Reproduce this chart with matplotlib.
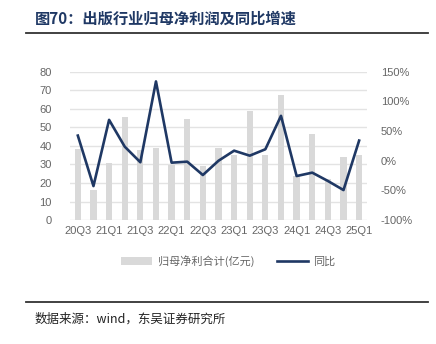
import numpy as np
import matplotlib.pyplot as plt
from matplotlib.lines import Line2D
from matplotlib.patches import Patch
from matplotlib.ticker import FuncFormatter

plt.rcParams['font.family'] = ['Liberation Sans', 'Noto Sans CJK SC', 'DejaVu Sans']

# Dane
quarters = ['20Q3', '20Q4', '21Q1', '21Q2', '21Q3', '21Q4', '22Q1', '22Q2', '22Q3', '22Q4',
            '23Q1', '23Q2', '23Q3', '23Q4', '24Q1', '24Q2', '24Q3', '24Q4', '25Q1']
net_profit = [38.5, 16.5, 30.6, 55.5, 37.8, 38.7, 29.7, 54.5, 29.1, 38.7,
              35.0, 58.8, 35.0, 67.4, 24.0, 46.5, 22.1, 34.2, 35.0]
yoy_pct = [42.4, -42.6, 68.9, 23.8, -2.5, 133.6, -3.2, -1.5, -24.0, 0.0,
           17.0, 8.6, 19.4, 75.7, -25.7, -20.0, -34.0, -49.3, 34.0]
bar_label = '归母净利合计(亿元)'
line_label = '同比'
title = '图70：出版行业归母净利润及同比增速'
source = '数据来源：wind，东吴证券研究所'

navy = '#1f3864'
gray_txt = '#666666'

fig = plt.figure(figsize=(4.36, 3.44), dpi=100)
ax = fig.add_axes([0.1606, 0.360, 0.681, 0.4316])
x = np.arange(len(quarters))

ax.bar(x, net_profit, width=0.4, color='#d9d9d9', zorder=2)
ax.set_ylim(0, 80)
ax.set_yticks(np.arange(0, 81, 10))
ax.set_xlim(-0.5, len(quarters) - 0.5)
ax.set_xticks(x[::2])
ax.set_xticklabels(quarters[::2])
ax.grid(axis='y', color='#e3e3e3', linewidth=1, zorder=0)
ax.tick_params(length=0, labelsize=8, labelcolor=gray_txt, pad=4)
ax.tick_params(axis='y', pad=13)
for s in ax.spines.values():
    s.set_visible(False)

ax2 = ax.twinx()
ax2.plot(x, np.array(yoy_pct) / 100, color=navy, linewidth=1.9, zorder=3)
ax2.set_ylim(-1.0, 1.5)
ax2.set_yticks(np.arange(-1.0, 1.51, 0.5))
ax2.yaxis.set_major_formatter(FuncFormatter(lambda v, p: f'{v * 100:.0f}%'))
ax2.tick_params(length=0, labelsize=8, labelcolor=gray_txt, pad=10)
for s in ax2.spines.values():
    s.set_visible(False)

handles = [Patch(facecolor='#d9d9d9', edgecolor='none'),
           Line2D([0], [0], color=navy, linewidth=1.9)]
fig.legend(handles, [bar_label, line_label], loc='center', bbox_to_anchor=(0.524, 0.241),
           ncol=2, frameon=False, handlelength=2.8, handleheight=0.6,
           columnspacing=2.0, handletextpad=0.5,
           labelcolor=gray_txt, prop={'family': ['Noto Sans CJK SC'], 'size': 8})

fig.text(35 / 436, 1 - 18.5 / 344, title, fontsize=11, fontweight='bold', color=navy,
         va='center', ha='left', family=['Noto Sans CJK SC'])
fig.text(35 / 436, 1 - 319 / 344, source, fontsize=9, color='#222222',
         va='center', ha='left', family=['Noto Sans CJK SC'])
for yy in (33.3, 302.3):
    fig.add_artist(Line2D([26 / 436, 428 / 436], [1 - yy / 344] * 2,
                          color='#333333', linewidth=1.3, transform=fig.transFigure))

fig.savefig('out.png', dpi=100)
